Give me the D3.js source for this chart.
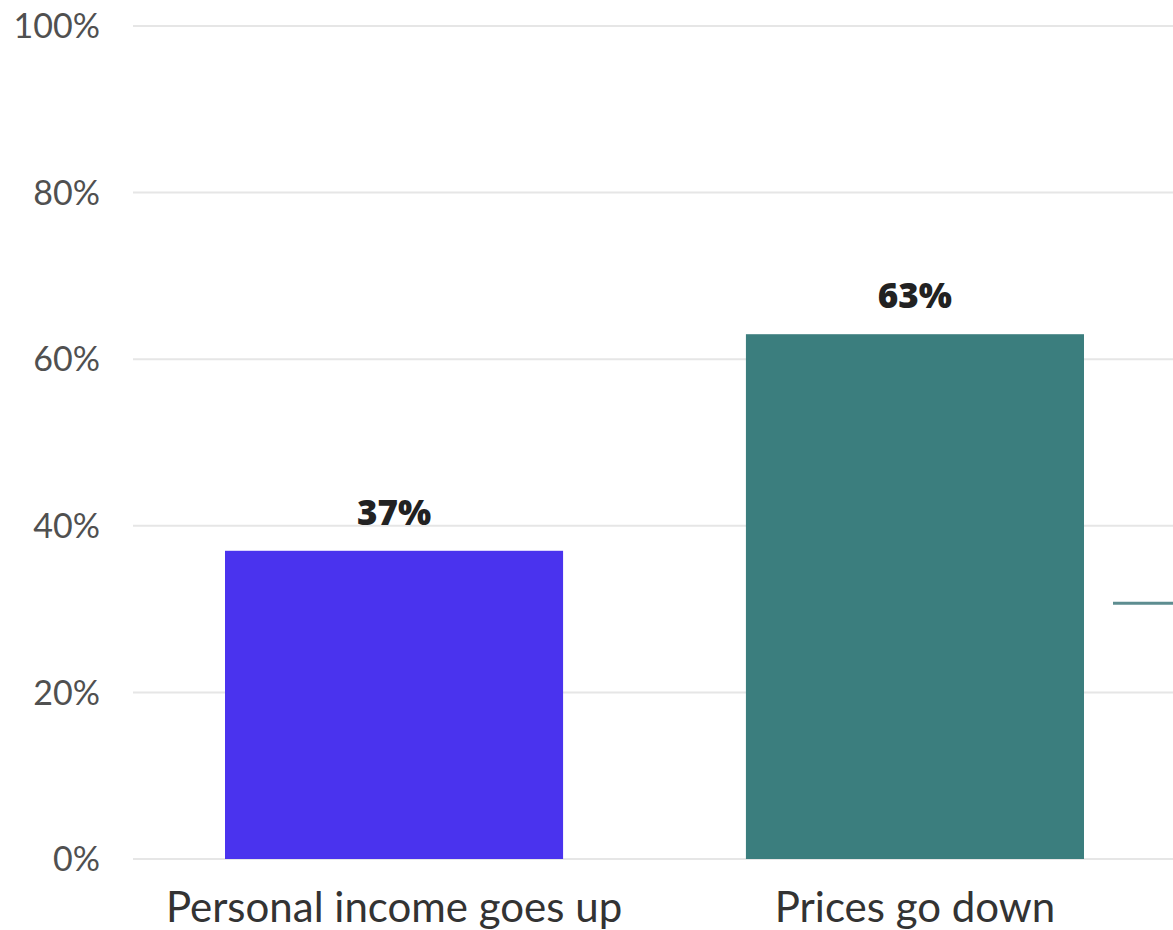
<!DOCTYPE html>
<html><head><meta charset="utf-8">
<script src="https://cdn.jsdelivr.net/npm/d3@7"></script>
<style>body{margin:0;background:#fff}</style>
</head><body>
<svg id="c" width="1173" height="930"></svg>
<script>
const categories = ["Personal income goes up", "Prices go down"];
const values = [37, 63];
const barColors = ["#4a33ee", "#3b7e7e"];
const yTicks = [0, 20, 40, 60, 80, 100];
const markerValue = [30.7];

const svg = d3.select("#c");
const y = d3.scaleLinear().domain([0, 100]).range([859, 26]);
const x = d3.scaleBand().domain(categories).range([225, 1084]).paddingInner(0.351).paddingOuter(0);
// grid
svg.append("g").selectAll("line").data(yTicks).join("line")
  .attr("x1", 133).attr("x2", 1173)
  .attr("y1", d => y(d)).attr("y2", d => y(d))
  .attr("stroke", "#e6e6e6").attr("stroke-width", 2);
svg.append("g").selectAll("text").data(yTicks).join("text")
  .attr("x", 100).attr("y", d => y(d)).attr("dy", "0.36em")
  .attr("text-anchor", "end")
  .attr("font-family", "Lato").attr("font-size", 34).attr("fill", "#505050")
  .text(d => d + "%");
svg.append("g").selectAll("rect").data(values).join("rect")
  .attr("x", (d, i) => x(categories[i])).attr("width", x.bandwidth())
  .attr("y", d => y(d)).attr("height", d => y(0) - y(d))
  .attr("fill", (d, i) => barColors[i]);
svg.append("g").selectAll("text").data(values).join("text")
  .attr("x", (d, i) => x(categories[i]) + x.bandwidth() / 2)
  .attr("y", d => y(d) - 26)
  .attr("text-anchor", "middle")
  .attr("font-family", "Open Sans").attr("font-weight", 800).attr("font-size", 35).attr("fill", "#222")
  .text(d => d + "%");
svg.append("g").selectAll("text").data(categories).join("text")
  .attr("x", d => x(d) + x.bandwidth() / 2).attr("y", 922)
  .attr("text-anchor", "middle")
  .attr("font-family", "Lato").attr("font-size", 42).attr("fill", "#333")
  .text(d => d);
svg.append("g").selectAll("line").data(markerValue).join("line")
  .attr("x1", 1113).attr("x2", 1173)
  .attr("y1", d => y(d)).attr("y2", d => y(d))
  .attr("stroke", "#5d8d90").attr("stroke-width", 3);
</script>
</body></html>
